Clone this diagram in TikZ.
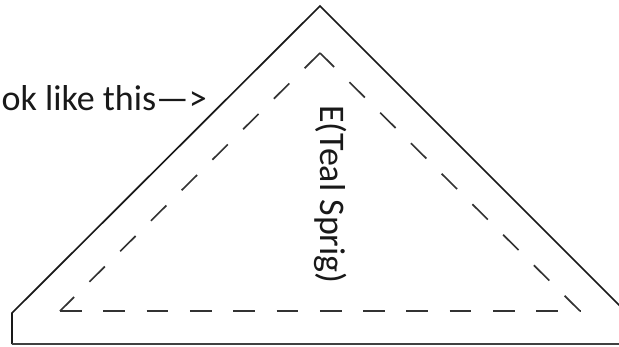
\documentclass[tikz,border=0pt]{standalone}
\usepackage{fontspec}
\setmainfont{Carlito}
\begin{document}
\begin{tikzpicture}[x=1pt,y=-1pt,
  outline/.style={line width=1.7pt,black!90},
  seam/.style={line width=1.7pt,black!80,dash pattern=on 21.7pt off 21.6pt},
  lbl/.style={inner sep=0pt,font=\fontsize{36}{43}\selectfont,text=black!90}]
\useasboundingbox (0,0) rectangle (619,346);
% outer shape
\coordinate (bl) at (12,344);
\coordinate (lc) at (12,313);
\coordinate (top) at (320,6);
\coordinate (rc) at (660,346);
\coordinate (br) at (660,344);
\draw[outline,line join=miter] (bl) -- (lc) -- (top) -- (rc);
\draw[line width=2.2pt,black!75] (bl) -- (br);
% inner dashed triangle
\coordinate (il) at (60,311);
\coordinate (ir) at (580,311);
\coordinate (it) at (320,53);
\draw[seam] (il) -- (ir);
\draw[seam] (ir) -- (it);
\draw[seam] (it) -- (il);
% labels
\node[lbl,anchor=base east] (say) at (207,110) {ok like this—>};
\node[lbl,rotate=-90,anchor=base west] (name) at (320,105) {E(Teal Sprig)};
\end{tikzpicture}
\end{document}
